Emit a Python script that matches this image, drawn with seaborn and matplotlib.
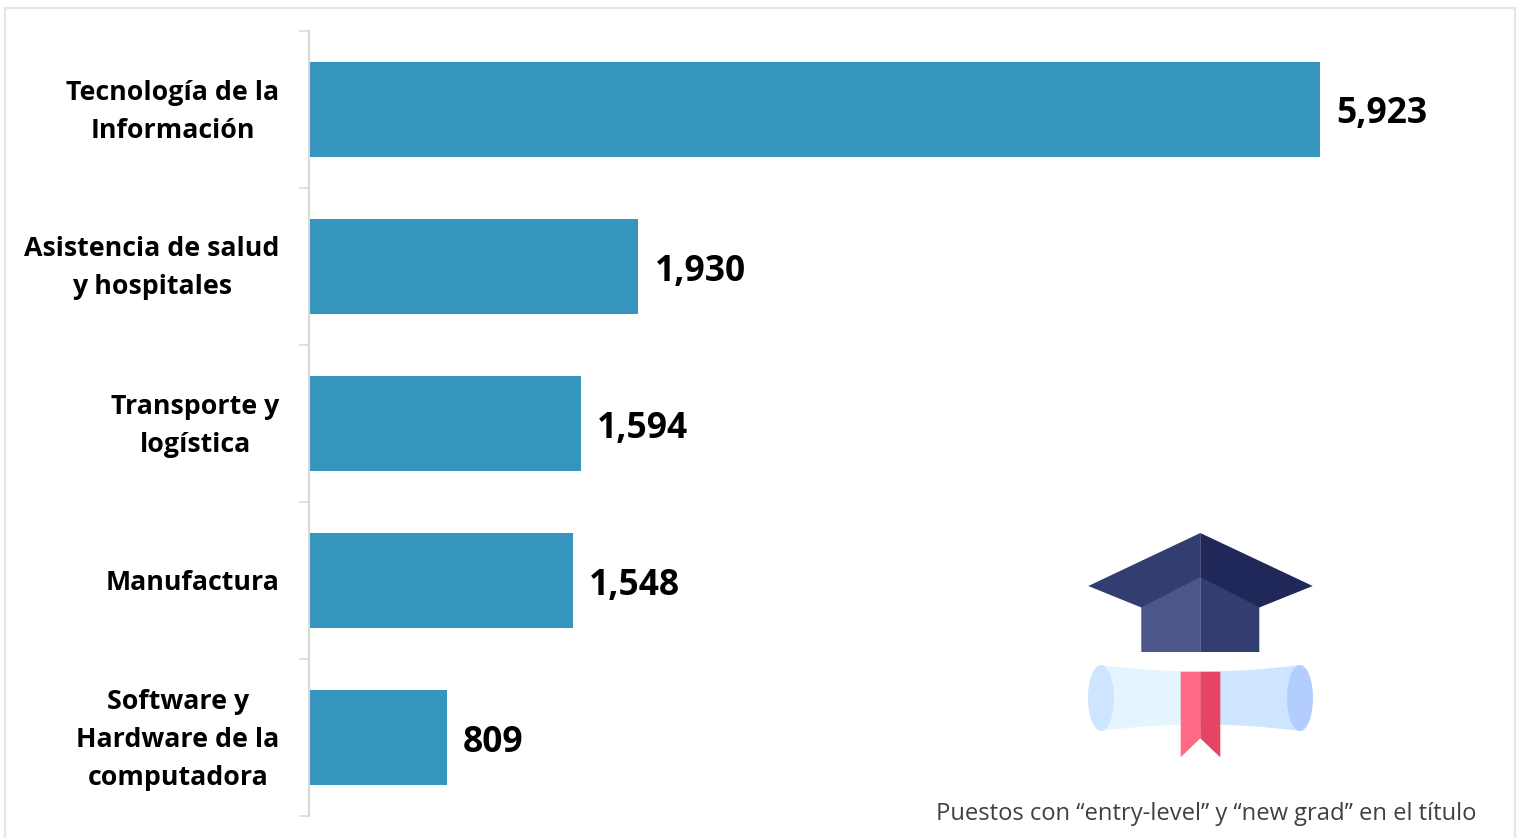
import matplotlib
matplotlib.use("Agg")
import matplotlib.pyplot as plt
from matplotlib.patches import Rectangle, Polygon, Ellipse, PathPatch
from matplotlib.path import Path
from matplotlib.transforms import ScaledTranslation
import pandas as pd
import seaborn as sns

categories = ["Tecnología de la\nInformación", "Asistencia de salud\ny hospitales",
              "Transporte y\nlogística", "Manufactura",
              "Software y\nHardware de la\ncomputadora"]
values = [5923, 1930, 1594, 1548, 809]
footnote = "Puestos con “entry-level” y “new grad” en el título"

W, H = 1519, 838
sns.set_theme(style="white")
plt.rcParams["font.family"] = ["Open Sans", "DejaVu Sans"]

fig = plt.figure(figsize=(W / 100, H / 100), dpi=100, facecolor="white")
# panel frame
fig.add_artist(Rectangle((5 / W, -0.02), 1510 / W, 1 - 8 / H + 0.02, transform=fig.transFigure,
                         fc="white", ec="#e6e6e6", lw=1.6, zorder=-1))

left, right, top, bottom = 309, 1500, 31, 816
ax = fig.add_axes([left / W, 1 - bottom / H, (right - left) / W, (bottom - top) / H])
ax.patch.set_alpha(0)
df = pd.DataFrame({"cat": categories, "val": values})
sns.barplot(data=df, x="val", y="cat", color="#3595bc", saturation=1, width=0.605, linewidth=0, ax=ax)
ax.set_xlim(0, (right - left) * 5923 / 1011)
ax.set_ylim(4.5, -0.5)
ax.set_xlabel("")
ax.set_ylabel("")
ax.xaxis.set_visible(False)
for s in ["top", "right", "bottom"]:
    ax.spines[s].set_visible(False)
ax.spines["left"].set_color("#d9d9d9")
ax.spines["left"].set_linewidth(1.5)

# category labels centred per block; ticks between categories
ax.set_yticks([i - 0.5 for i in range(6)], minor=False)
ax.set_yticklabels([])
ax.tick_params(axis="y", which="major", length=7.5, width=1.1, color="#d9d9d9", left=True)
ax.set_yticks(range(5), categories, minor=True)
ax.tick_params(axis="y", which="minor", length=0, pad=21.2)
for t in ax.get_yticklabels(minor=True):
    t.set_fontsize(19.3)
    t.set_fontweight("bold")
    t.set_color("black")
    t.set_ha("right")
    t.set_multialignment("center")
    t.set_linespacing(1.6)
    up = 7 if "\n" in t.get_text() else 1
    t.set_transform(t.get_transform() + ScaledTranslation(0, up / 100, fig.dpi_scale_trans))

labels = ax.bar_label(ax.containers[0], labels=[f"{v:,}" for v in values], padding=11.6,
                      fontsize=25.5, fontweight="bold", color="black")
for a in labels:
    x_off, y_off = a.xyann
    a.xyann = (x_off, y_off - 3.6)

fig.text(1476 / W, 1 - 820 / H, footnote, ha="right", va="baseline", fontsize=17.1, color="#404040")

# decorative icon, in pixel coordinates
ic = fig.add_axes([0, 0, 1, 1], zorder=5)
ic.set_xlim(0, W)
ic.set_ylim(H, 0)
ic.axis("off")
def poly(pts, c):
    ic.add_patch(Polygon(pts, closed=True, fc=c, ec="none"))
poly([(1141.3, 607), (1200.3, 576), (1200.3, 652), (1141.3, 652)], "#4d5688")
poly([(1200.3, 576), (1259.3, 607), (1259.3, 652), (1200.3, 652)], "#333e70")
poly([(1088.3, 586), (1200.3, 533), (1200.3, 577), (1141.3, 607.5)], "#333e70")
poly([(1312.7, 586), (1200.3, 533), (1200.3, 577), (1259.3, 607.5)], "#20285a")
def scroll(x0, x1, c):
    v = [(x0, 665), ((x0 + x1) / 2, 671.5), (x1, 671.7), (x1, 724.3), ((x0 + x1) / 2, 724.5), (x0, 731), (x0, 665)]
    k = [Path.MOVETO, Path.CURVE3, Path.CURVE3, Path.LINETO, Path.CURVE3, Path.CURVE3, Path.CLOSEPOLY]
    ic.add_patch(PathPatch(Path(v, k), fc=c, ec="none"))
scroll(1101, 1200.3, "#e4f5ff")
scroll(1300, 1200.3, "#cde5ff")
ic.add_patch(Ellipse((1101, 698), 26, 66, fc="#cde5ff", ec="none"))
ic.add_patch(Ellipse((1300, 698), 26, 66, fc="#b3cdff", ec="none"))
poly([(1180.7, 671.7), (1200.3, 671.7), (1200.3, 738.3), (1180.7, 757.3)], "#ff6a84")
poly([(1200.3, 671.7), (1220.3, 671.7), (1220.3, 757.3), (1200.3, 738.3)], "#e54563")

fig.savefig("out.png", dpi=100, facecolor="white")
